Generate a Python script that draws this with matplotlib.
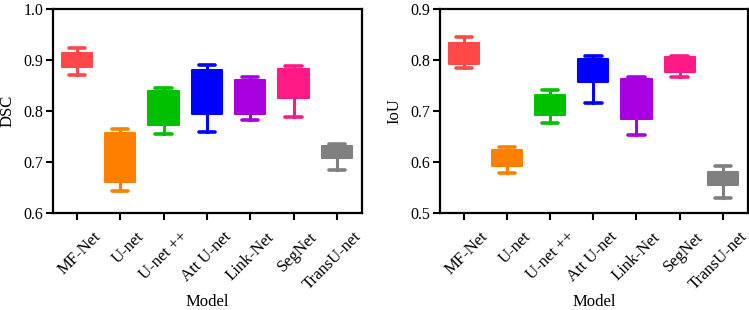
import matplotlib
matplotlib.use("Agg")
import matplotlib.pyplot as plt
from matplotlib.transforms import ScaledTranslation

models = ["MF-Net", "U-net", "U-net ++", "Att U-net", "Link-Net", "SegNet", "TransU-net"]
colors = ["#FF4848", "#FF8000", "#00C000", "#0000FF", "#A800E0", "#FF1A85", "#808080"]

# DSC: lower whisker, Q1, median, Q3, upper whisker
dsc_low = [0.870, 0.644, 0.755, 0.759, 0.782, 0.788, 0.684]
dsc_q1 = [0.887, 0.660, 0.773, 0.794, 0.794, 0.826, 0.708]
dsc_med = [0.900, 0.740, 0.820, 0.850, 0.840, 0.860, 0.720]
dsc_q3 = [0.914, 0.757, 0.840, 0.880, 0.861, 0.882, 0.732]
dsc_high = [0.923, 0.765, 0.845, 0.891, 0.866, 0.889, 0.735]

# IoU
iou_low = [0.784, 0.579, 0.676, 0.715, 0.652, 0.767, 0.530]
iou_q1 = [0.792, 0.593, 0.692, 0.756, 0.684, 0.777, 0.555]
iou_med = [0.810, 0.610, 0.715, 0.780, 0.740, 0.790, 0.570]
iou_q3 = [0.833, 0.623, 0.732, 0.801, 0.762, 0.805, 0.581]
iou_high = [0.846, 0.629, 0.741, 0.807, 0.767, 0.807, 0.592]

plt.rcParams['font.family'] = ['Liberation Serif', 'DejaVu Serif']

fig = plt.figure(figsize=(7.49, 3.10), dpi=100)
ax1 = fig.add_axes([0.0708, 0.313, 0.4125, 0.658])
ax2 = fig.add_axes([0.5875, 0.313, 0.411, 0.658])


def draw(ax, low, q1, med, q3, high, ylim, yticks, ylabel):
    for i in range(len(models)):
        st = [dict(whislo=low[i], q1=q1[i], med=med[i], q3=q3[i], whishi=high[i], fliers=[])]
        c = colors[i]
        ax.bxp(st, positions=[i + 1], widths=0.7, patch_artist=True, showfliers=False,
               boxprops=dict(facecolor=c, edgecolor=c, linewidth=1.5, joinstyle='round'),
               whiskerprops=dict(color=c, linewidth=2.2),
               capprops=dict(color=c, linewidth=2.6, solid_capstyle='round'),
               medianprops=dict(color=c, linewidth=0),
               capwidths=0.38)
    ax.set_xlim(0.45, 7.58)
    ax.set_ylim(*ylim)
    ax.set_yticks(yticks)
    ax.set_yticklabels([f"{v:.1f}" for v in yticks])
    ax.set_xticks(range(1, 8))
    ax.set_xticklabels([])
    off = ScaledTranslation(16 / 100, -16 / 100, fig.dpi_scale_trans)
    tr = ax.get_xaxis_transform() + off
    for i, m in enumerate(models):
        ax.text(i + 1, 0, m, transform=tr, rotation=45, ha='right', va='top',
                rotation_mode='anchor', fontsize=12)
    ax.tick_params(axis='y', labelsize=11.5, width=1.5, length=5, direction='out', pad=2)
    ax.tick_params(axis='x', width=1.5, length=5, direction='out', pad=3.5)
    for s in ax.spines.values():
        s.set_linewidth(1.6)
    ax.set_ylabel(ylabel, fontsize=12, va='center')
    ax.yaxis.set_label_coords(-0.148, 0.5)
    ax.set_xlabel("Model", fontsize=12, va='center')
    ax.xaxis.set_label_coords(0.5, -0.435)


draw(ax1, dsc_low, dsc_q1, dsc_med, dsc_q3, dsc_high, (0.6, 1.0), [0.6, 0.7, 0.8, 0.9, 1.0], "DSC")
draw(ax2, iou_low, iou_q1, iou_med, iou_q3, iou_high, (0.5, 0.9), [0.5, 0.6, 0.7, 0.8, 0.9], "IoU")

fig.savefig("out.png", dpi=100)
